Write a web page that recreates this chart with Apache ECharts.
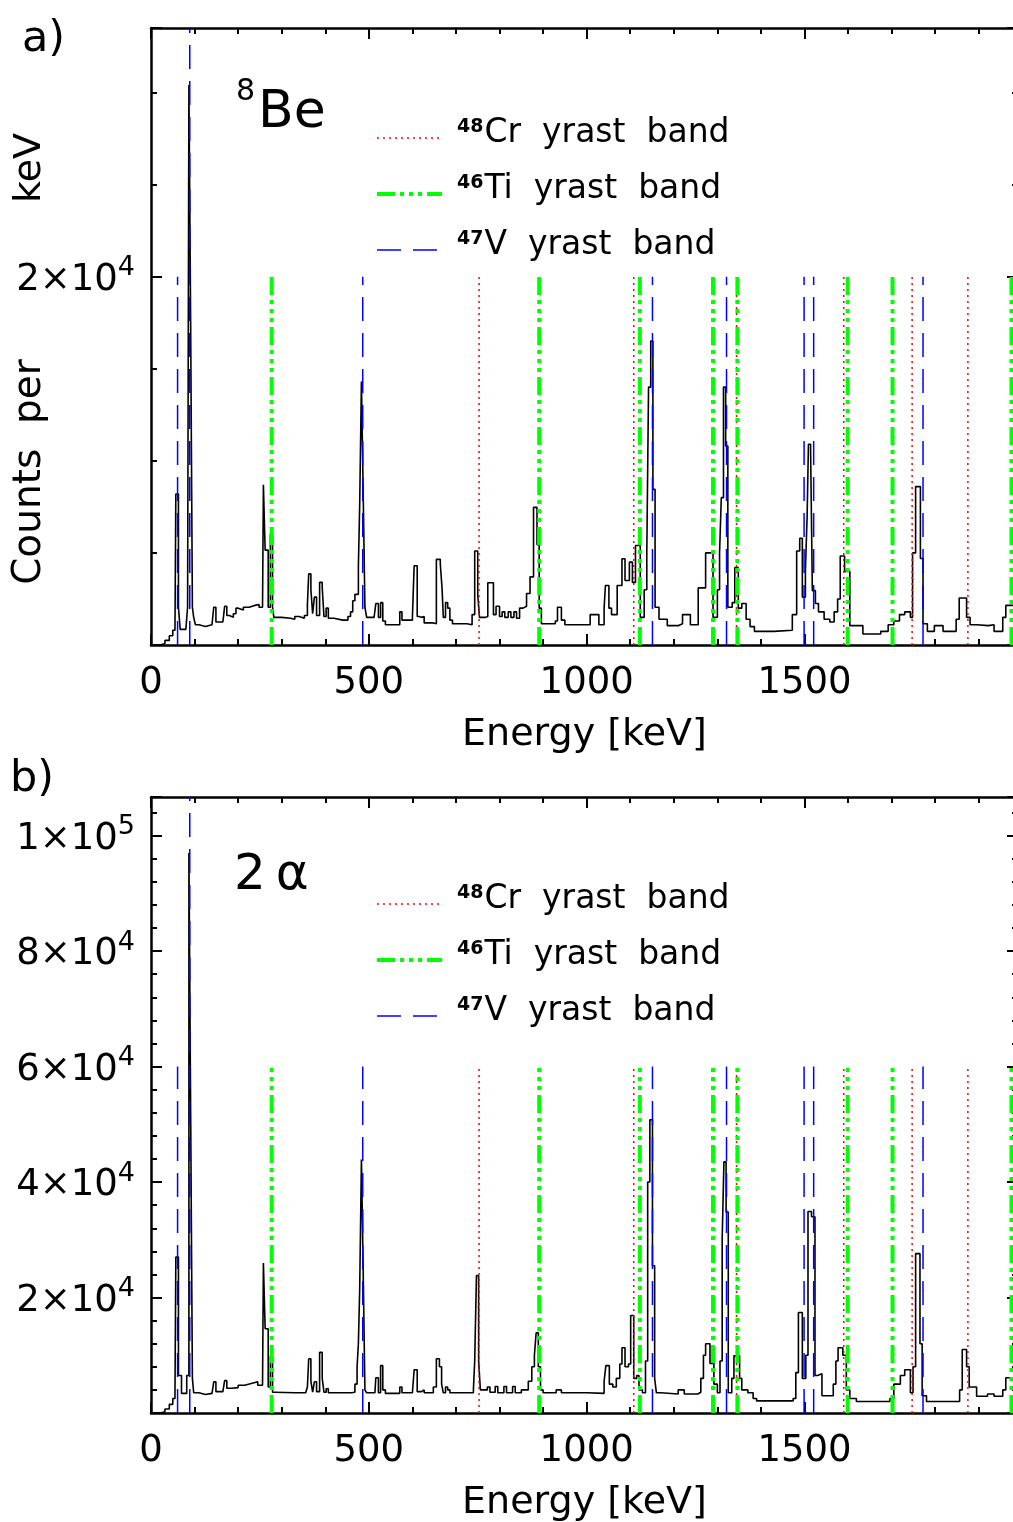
<!DOCTYPE html>
<html>
<head>
<meta charset="utf-8">
<script src="https://cdn.jsdelivr.net/npm/echarts@6/dist/echarts.min.js"></script>
<style>
html,body{margin:0;padding:0;background:#fff;}
#chart{width:1013px;height:1522px;}
</style>
</head>
<body>
<div id="chart"></div>
<script>
// ---------------- DATA ----------------
// Spectrum gated on 8Be: [energy bin start (keV), counts per keV]
const spectrum8Be = [[0,0],[22,80],[32,250],[42,500],[50,800],[55,900],[57,8200],[63,2050],[67,850],[80,900],[84,2050],[87,30400],[91,17500],[95,2050],[98,1500],[102,1100],[110,1000],[125,1100],[140,1200],[144,2050],[149,1250],[165,1300],[169,2100],[174,1600],[180,1500],[189,1700],[195,2000],[200,1900],[212,2050],[225,2150],[238,2200],[248,2050],[256,2100],[258,8700],[262,5150],[269,2050],[274,6000],[279,2050],[282,1500],[300,1450],[320,1400],[330,1550],[340,1450],[352,1600],[359,2200],[362,3860],[367,3000],[371,1700],[375,2600],[380,1600],[387,3400],[393,3100],[397,1550],[402,2000],[407,1450],[420,1350],[440,1350],[452,1550],[458,1800],[463,2400],[468,2750],[476,4270],[479,7600],[483,14300],[487,8300],[491,2050],[495,1500],[512,1450],[516,2250],[522,1500],[527,2300],[532,1300],[538,1100],[565,1100],[571,1800],[576,1350],[590,1350],[600,1500],[604,4300],[611,1550],[616,1500],[621,1550],[627,1200],[648,1150],[655,4650],[664,4400],[668,3100],[671,1500],[676,2300],[681,2000],[686,1350],[692,1150],[725,1100],[737,1650],[743,5100],[750,2700],[754,1500],[768,1550],[773,3380],[786,1650],[792,2100],[800,1550],[806,1800],[812,1500],[820,1800],[826,1500],[833,1800],[839,1450],[846,2000],[854,2100],[862,2800],[870,3700],[878,7470],[886,5450],[891,2000],[896,1150],[928,1300],[933,2050],[942,1350],[950,1100],[1008,1650],[1028,1100],[1040,2000],[1043,3230],[1051,2000],[1057,1650],[1070,3230],[1081,4680],[1088,3500],[1098,4500],[1105,3400],[1112,5400],[1123,1500],[1132,3000],[1138,5000],[1142,14000],[1147,16500],[1152,8450],[1157,2050],[1166,1400],[1185,1050],[1210,1150],[1220,1650],[1238,1100],[1256,3100],[1273,5000],[1290,1500],[1300,3000],[1305,5000],[1309,8000],[1314,14000],[1319,10800],[1324,2050],[1334,2300],[1340,4200],[1348,2000],[1356,2250],[1366,1400],[1375,1000],[1385,740],[1430,800],[1472,1650],[1482,5100],[1489,5800],[1495,2600],[1502,4000],[1506,7000],[1509,10900],[1514,10500],[1518,2950],[1525,2250],[1532,1800],[1545,1400],[1558,1250],[1568,1800],[1576,2500],[1582,4830],[1592,4000],[1604,1050],[1634,600],[1675,740],[1692,1100],[1705,1300],[1718,1650],[1730,1800],[1743,1500],[1748,5000],[1755,8600],[1766,4700],[1772,1150],[1782,740],[1798,1050],[1818,740],[1848,1400],[1855,2550],[1872,1500],[1880,1100],[1895,1050],[1922,1100],[1935,740],[1955,1500],[1962,2150],[1990,2150]];

// Spectrum gated on 2 alpha
const spectrum2a = [[0,0],[22,200],[32,700],[42,1500],[50,2500],[55,3000],[57,27000],[63,6500],[70,3400],[82,6500],[87,97000],[91,52300],[95,6000],[98,3500],[110,3200],[125,3400],[140,3500],[144,5400],[149,3700],[165,3800],[169,5600],[174,4300],[185,4400],[200,4800],[215,5100],[230,5400],[245,4800],[256,5000],[258,26000],[262,14600],[269,4500],[274,9800],[279,3600],[285,3500],[330,3500],[355,3600],[359,4500],[362,9400],[367,5500],[371,3600],[375,5400],[380,3700],[387,10500],[393,6000],[397,3600],[402,4200],[407,3500],[460,3600],[468,5000],[473,8000],[476,12000],[479,21400],[483,43900],[487,24800],[491,4000],[495,3500],[514,3500],[516,6100],[522,3500],[527,8200],[532,4000],[538,3400],[571,4500],[576,3500],[600,3700],[604,7500],[611,3700],[621,4000],[627,3500],[648,4500],[655,9400],[662,8000],[667,5000],[671,3500],[676,4500],[681,4000],[686,3500],[740,4000],[743,9000],[747,23800],[752,9000],[756,4000],[772,4500],[778,3600],[790,4600],[796,3500],[810,4600],[816,3500],[830,4600],[836,3500],[850,4000],[866,5500],[874,8000],[880,10000],[884,13900],[889,8000],[894,4000],[900,3500],[930,4000],[942,3500],[1000,3400],[1040,5500],[1044,8200],[1052,5000],[1060,4500],[1068,6000],[1076,8500],[1081,11300],[1088,8000],[1096,8500],[1101,16900],[1108,6000],[1115,6500],[1120,4000],[1128,3500],[1135,9000],[1140,40000],[1145,50800],[1151,25500],[1156,6000],[1160,3500],[1170,3300],[1210,4000],[1224,3300],[1255,3600],[1262,6000],[1268,10000],[1273,12000],[1283,8600],[1292,5000],[1300,3500],[1306,9000],[1311,30000],[1315,43500],[1320,34800],[1325,3500],[1333,6000],[1338,9900],[1351,6000],[1356,4000],[1370,3500],[1382,2500],[1390,2100],[1474,2500],[1480,7000],[1486,17400],[1495,6000],[1503,10000],[1508,34900],[1516,34000],[1524,6500],[1530,6800],[1540,3000],[1566,5000],[1572,9000],[1577,11300],[1588,10000],[1596,4000],[1604,2500],[1619,2000],[1696,2500],[1705,5000],[1720,6500],[1730,7500],[1743,3500],[1749,8000],[1755,27600],[1765,12000],[1770,3000],[1780,2000],[1856,4000],[1862,11000],[1872,8000],[1878,4500],[1895,2900],[1920,3300],[1935,2900],[1955,4000],[1962,6100],[1990,6100]];

// Yrast band transition energies (keV)
const cr48Lines = [753, 1108, 1344, 1590, 1747, 1875];
const ti46Lines = [277, 891, 1122, 1290, 1346, 1599, 1702, 1975];
const v47Lines  = [61, 89, 486, 1151, 1321, 1499, 1521, 1772];
// marker lines drawn up to the top of the frame
const fullHeightLines = [89];

// Heights of the marker lines, axis ranges
const lineTops = [20000, 60000];
const yMax = [33500, 106700];
const yMajor = [20000, 20000];
const yMinor = [5000, 4000];
const xMax = 1990;
const xTickLabels = [0, 500, 1000, 1500];
const panelLabels = ['a)', 'b)'];
const legendNames = {cr: ['48', 'Cr  yrast  band'], ti: ['46', 'Ti  yrast  band'], v: ['47', 'V  yrast  band']};

// ---------------- CHART ----------------
const FONT = 'DejaVu Sans';
const chart = echarts.init(document.getElementById('chart'), null, {renderer: 'canvas'});

const grids = [
  {left: 151, top: 28, width: 867, height: 617, outerBoundsMode: 'none', containLabel: false},
  {left: 151, top: 797, width: 867, height: 616, outerBoundsMode: 'none', containLabel: false}
];

function sup(v) {
  if (v <= 0) return '';
  const e = Math.floor(Math.log10(v) + 1e-9);
  const m = Math.round(v / Math.pow(10, e));
  return '{n|' + m + '×10}{s|' + e + '}';
}

const xAxes = [], yAxes = [], series = [];
[0, 1].forEach(g => {
  const axLine = {show: true, onZero: false, lineStyle: {color: '#000', width: 2.5}};
  const noLine = {show: false, onZero: false};
  const majT = {inside: true, length: 11, lineStyle: {color: '#000', width: 2}};
  const minT = {inside: true, length: 6, lineStyle: {color: '#000', width: 2}};
  const baseX = {gridIndex: g, type: 'value', min: 0, max: xMax, splitLine: {show: false}};
  xAxes.push(Object.assign({}, baseX, {
    position: 'bottom', interval: 500, axisLine: axLine, axisTick: majT,
    axisLabel: {margin: 20, color: '#000', fontFamily: FONT, fontSize: 37,
      formatter: v => xTickLabels.indexOf(v) >= 0 ? String(v) : ''},
    name: 'Energy [keV]', nameLocation: 'middle', nameGap: 71,
    nameTextStyle: {color: '#000', fontFamily: FONT, fontSize: 38}
  }));
  xAxes.push(Object.assign({}, baseX, {position: 'bottom', interval: 100, axisLine: noLine, axisTick: minT, axisLabel: {show: false}}));
  xAxes.push(Object.assign({}, baseX, {position: 'top', interval: 500, axisLine: axLine, axisTick: majT, axisLabel: {show: false}}));
  xAxes.push(Object.assign({}, baseX, {position: 'top', interval: 100, axisLine: noLine, axisTick: minT, axisLabel: {show: false}}));

  const baseY = {gridIndex: g, type: 'value', min: 0, max: yMax[g], splitLine: {show: false}};
  yAxes.push(Object.assign({}, baseY, {
    position: 'left', interval: yMajor[g], axisLine: axLine, axisTick: majT,
    axisLabel: {margin: 16, color: '#000', formatter: v => (v % yMajor[g] === 0 ? sup(v) : ''),
      rich: {
        n: {fontFamily: FONT, fontSize: 37, color: '#000', lineHeight: 44, verticalAlign: 'bottom'},
        s: {fontFamily: FONT, fontSize: 27, color: '#000', lineHeight: 14, verticalAlign: 'top'}
      }}
  }));
  yAxes.push(Object.assign({}, baseY, {position: 'left', interval: yMinor[g], axisLine: noLine, axisTick: minT, axisLabel: {show: false}}));
  yAxes.push(Object.assign({}, baseY, {position: 'right', interval: yMajor[g], axisLine: axLine, axisTick: majT, axisLabel: {show: false}}));
  yAxes.push(Object.assign({}, baseY, {position: 'right', interval: yMinor[g], axisLine: noLine, axisTick: minT, axisLabel: {show: false}}));

  const xi = 4 * g, yi = 4 * g;
  series.push({
    type: 'line', xAxisIndex: xi, yAxisIndex: yi, step: 'end', symbol: 'none',
    data: g === 0 ? spectrum8Be : spectrum2a,
    lineStyle: {color: '#000', width: 1.6}, z: 2, silent: true, animation: false
  });
  const vdata = arr => {
    const d = [];
    arr.forEach(e => {
      const top = fullHeightLines.indexOf(e) >= 0 ? yMax[g] : lineTops[g];
      d.push([e, 0]); d.push([e, top]); d.push([e, '-']);
    });
    return d;
  };
  series.push({
    name: 'cr', type: 'line', xAxisIndex: xi, yAxisIndex: yi, symbol: 'none', data: vdata(cr48Lines),
    color: '#ff0000', lineStyle: {color: '#ff0000', width: 1.5, type: [2, 4]}, z: 3, silent: true, animation: false
  });
  series.push({
    name: 'ti', type: 'line', xAxisIndex: xi, yAxisIndex: yi, symbol: 'none', data: vdata(ti46Lines),
    color: '#00ff00', lineStyle: {color: '#00ff00', width: 4, type: [18, 5, 4, 5, 4, 5, 4, 5]}, z: 4, silent: true, animation: false
  });
  series.push({
    name: 'v', type: 'line', xAxisIndex: xi, yAxisIndex: yi, symbol: 'none', data: vdata(v47Lines),
    color: '#0000ff', lineStyle: {color: '#0000ff', width: 1.5, type: [24, 12]}, z: 5, silent: true, animation: false
  });
});

const legendRich = {
  s: {fontFamily: FONT, fontSize: 19, fontWeight: 'bold', color: '#000', lineHeight: 16, verticalAlign: 'top', padding: [0, 1, 0, 10]},
  t: {fontFamily: FONT, fontSize: 33, color: '#000', lineHeight: 40, verticalAlign: 'bottom', padding: [0, 0, 8, 0]}
};
const mkLegend = top => ({
  data: [
    {name: 'cr', lineStyle: {width: 1.5}},
    {name: 'ti', lineStyle: {width: 4}},
    {name: 'v', lineStyle: {width: 1.5}}
  ],
  orient: 'vertical', left: 370, top: top,
  itemWidth: 65, itemHeight: 14, itemGap: 15, selectedMode: false,
  itemStyle: {color: 'rgba(0,0,0,0)', borderWidth: 0},
  formatter: n => '{s|' + legendNames[n][0] + '}{t|' + legendNames[n][1] + '}',
  textStyle: {rich: legendRich}
});

const bigText = (txt, x, y, size) => ({
  type: 'text', left: x, top: y,
  style: {text: txt, font: size + 'px "' + FONT + '"', fill: '#000'}
});

chart.setOption({
  animation: false,
  backgroundColor: '#fff',
  grid: grids,
  xAxis: xAxes,
  yAxis: yAxes,
  series: series,
  legend: [mkLegend(112), mkLegend(878)],
  graphic: [
    bigText(panelLabels[0], 22, 18, 43),
    bigText(panelLabels[1], 10, 758, 43),
    {type: 'text', left: 236, top: 77, style: {text: '{s|8}{b|Be}', rich: {
      s: {fontFamily: FONT, fontSize: 30, fill: '#000', lineHeight: 22, verticalAlign: 'top'},
      b: {fontFamily: FONT, fontSize: 52, fill: '#000', lineHeight: 62, verticalAlign: 'bottom', padding: [0, 0, 0, 3]}
    }}},
    bigText('2\u2009α', 234, 851, 50),
    {type: 'text', x: 30, y: 472, rotation: Math.PI / 2,
      style: {text: 'Counts  per', font: '39px "' + FONT + '"', fill: '#000', align: 'center', verticalAlign: 'middle'}},
    {type: 'text', x: 30, y: 168, rotation: Math.PI / 2,
      style: {text: 'keV', font: '38px "' + FONT + '"', fill: '#000', align: 'center', verticalAlign: 'middle'}}
  ]
});
</script>
</body>
</html>
